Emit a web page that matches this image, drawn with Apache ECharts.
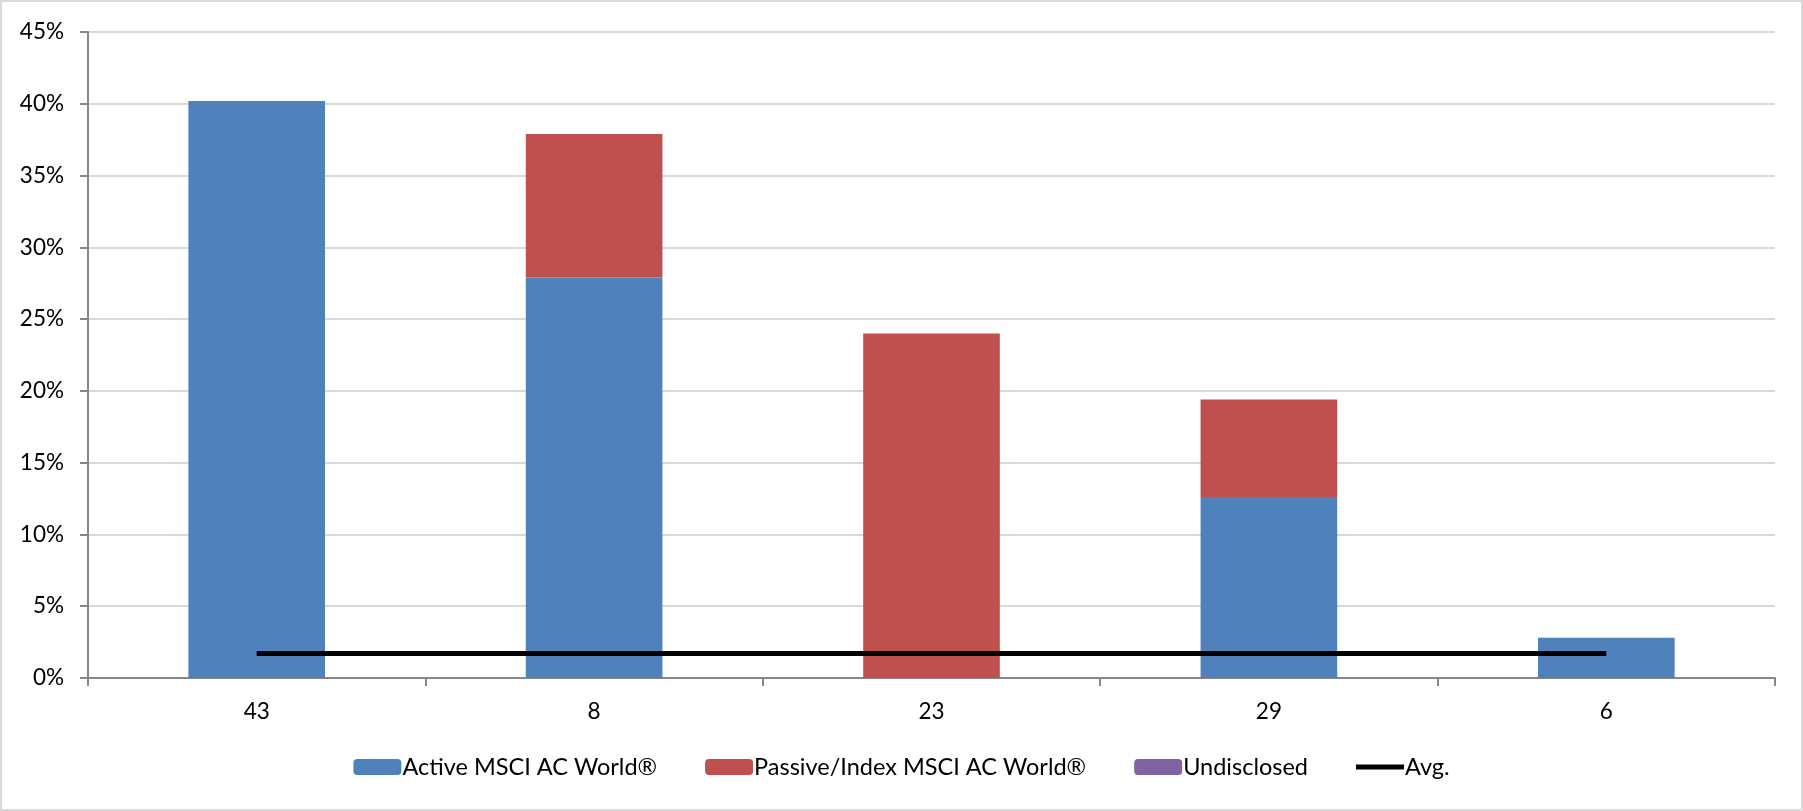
<!DOCTYPE html>
<html>
<head>
<meta charset="utf-8">
<script src="https://cdn.jsdelivr.net/npm/echarts@6/dist/echarts.min.js"></script>
<style>
  html, body { margin: 0; padding: 0; background: #fff; }
  #chart { width: 1803px; height: 811px; box-sizing: border-box; border: 2px solid #d9d9d9; }
</style>
</head>
<body>
<div id="chart"></div>
<script>
// Fund counts per group, shown as category labels
const categories = ['43', '8', '23', '29', '6'];
// Share of assets (%) by mandate type
const activeValues = [40.2, 27.9, 0, 12.6, 2.8];
const passiveValues = [0, 10.0, 24.0, 6.8, 0];
const undisclosedValues = [0, 0, 0, 0, 0];
const avgValues = [1.7, 1.7, 1.7, 1.7, 1.7];
const seriesNames = ['Active MSCI AC World\u00AE', 'Passive/Index MSCI AC World\u00AE', 'Undisclosed', 'Avg.'];

const FONT = 'Lato, "Open Sans", sans-serif';

const chart = echarts.init(document.getElementById('chart'), null, { renderer: 'canvas' });

chart.setOption({
  animation: false,
  backgroundColor: '#ffffff',
  textStyle: { fontFamily: FONT, color: '#000' },
  grid: { left: 86, right: 26, top: 30, bottom: 131, containLabel: false },
  legend: {
    bottom: 25,
    left: 'center',
    itemWidth: 48,
    itemHeight: 16,
    itemGap: 48,
    textStyle: { fontFamily: FONT, fontSize: 23.5, color: '#000', padding: [0, 0, 0, -4] },
    data: [
      seriesNames[0],
      seriesNames[1],
      seriesNames[2],
      { name: seriesNames[3], icon: 'path://M0,0H48V5H0Z' }
    ]
  },
  xAxis: {
    type: 'category',
    data: categories,
    boundaryGap: true,
    axisLine: { lineStyle: { color: '#868686', width: 2 } },
    axisTick: { show: true, alignWithLabel: false, length: 8, lineStyle: { color: '#868686', width: 2 } },
    axisLabel: { fontFamily: FONT, fontSize: 22.5, color: '#000', margin: 22 }
  },
  yAxis: {
    type: 'value',
    min: 0,
    max: 45,
    interval: 5,
    axisLine: { show: true, lineStyle: { color: '#868686', width: 2 } },
    axisTick: { show: true, length: 8, lineStyle: { color: '#868686', width: 2 } },
    axisLabel: { fontFamily: FONT, fontSize: 22.5, color: '#000', margin: 24, formatter: '{value}%' },
    splitLine: { show: true, lineStyle: { color: '#d9d9d9', width: 2 } }
  },
  series: [
    {
      name: seriesNames[0], type: 'bar', stack: 'share', barWidth: '40.5%',
      itemStyle: { color: '#4f81bd' }, data: activeValues
    },
    {
      name: seriesNames[1], type: 'bar', stack: 'share', barWidth: '40.5%',
      itemStyle: { color: '#c0504d' }, data: passiveValues
    },
    {
      name: seriesNames[2], type: 'bar', stack: 'share', barWidth: '40.5%',
      itemStyle: { color: '#8064a2' }, data: undisclosedValues
    },
    {
      name: seriesNames[3], type: 'line', symbol: 'none', z: 5,
      itemStyle: { color: '#000' },
      lineStyle: { color: '#000', width: 5 },
      data: avgValues
    }
  ]
});
</script>
</body>
</html>
